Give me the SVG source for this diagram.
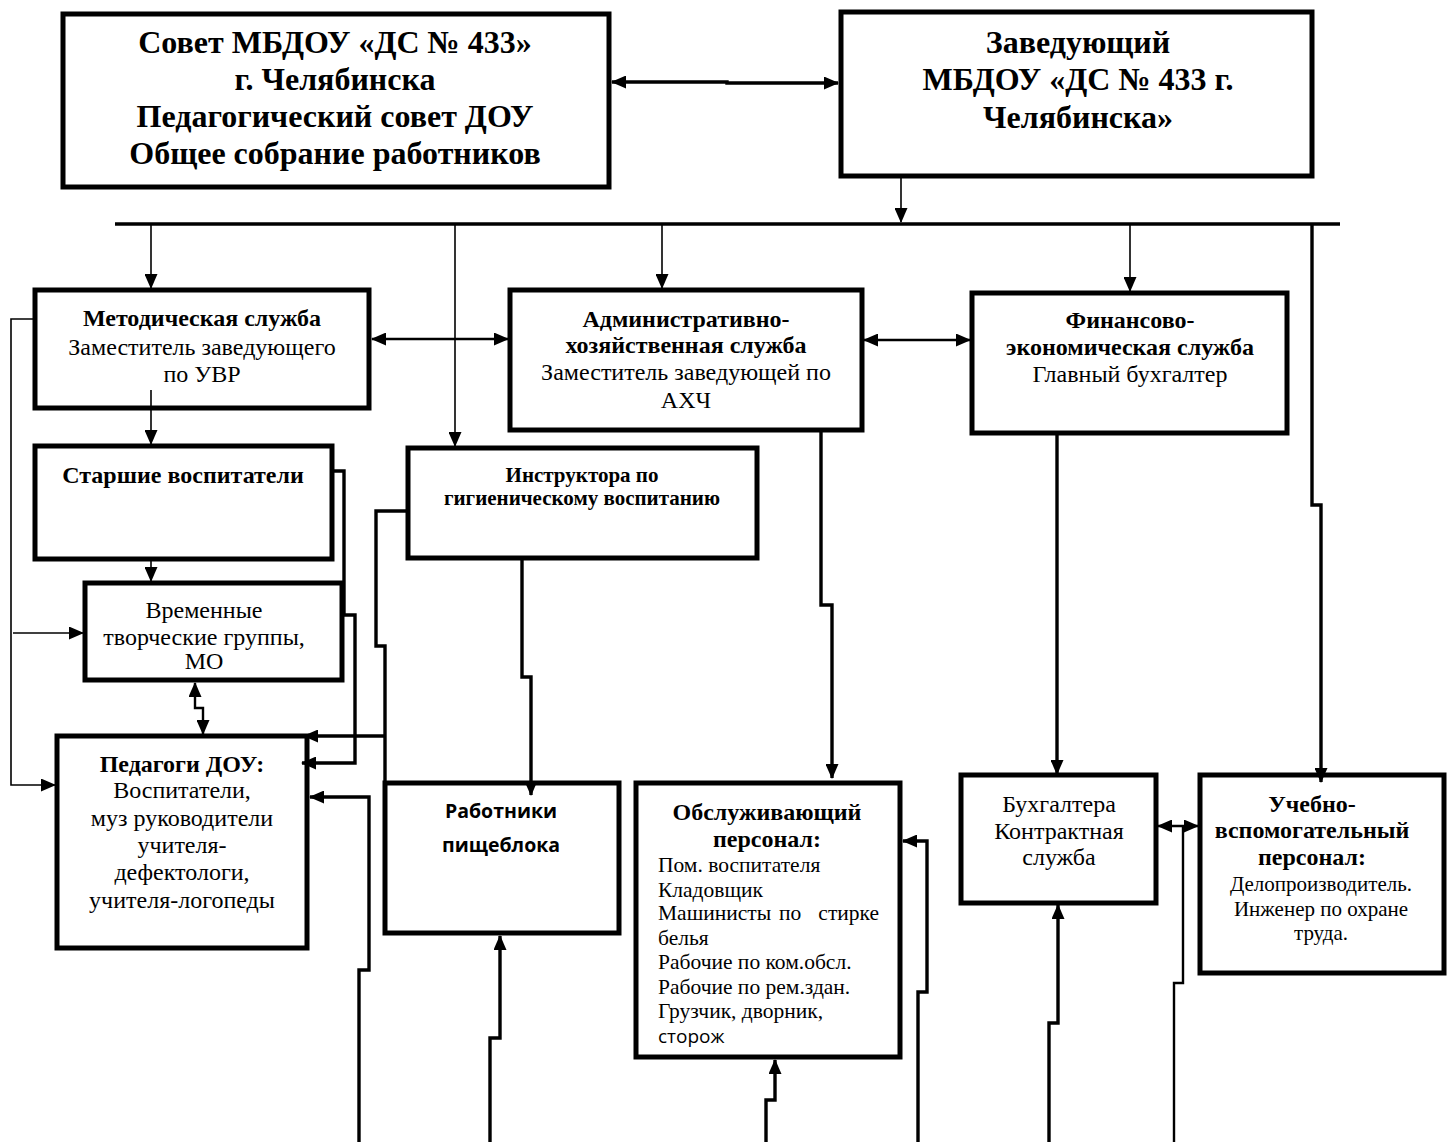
<svg xmlns="http://www.w3.org/2000/svg" width="1452" height="1142" viewBox="0 0 1452 1142">
<style>
.box{fill:#fff;stroke:#000;stroke-width:5}
.t{font-family:"Liberation Serif","Times New Roman",serif;fill:#000;text-anchor:middle}
.b{font-weight:bold}
.l{text-anchor:start}
.e{text-anchor:end}
.s{font-family:"Open Sans","Liberation Sans",sans-serif}
.c{fill:none;stroke:#000;stroke-linejoin:miter}
.w1{stroke-width:1.6}
.w2{stroke-width:2.4}
.w3{stroke-width:3.4}
</style>
<defs>
<marker id="ah" markerUnits="userSpaceOnUse" markerWidth="15" markerHeight="13" refX="14" refY="6.5" orient="auto-start-reverse"><path d="M0,0 L15,6.5 L0,13 z" fill="#000"/></marker>
</defs>
<rect width="1452" height="1142" fill="#fff"/>
<g id="sovet">
<rect class="box" x="63" y="14" width="546" height="173"/>
<text class="t b" font-size="32" x="335" y="53">Совет МБДОУ «ДС № 433»</text>
<text class="t b" font-size="32" x="335" y="90">г. Челябинска</text>
<text class="t b" font-size="32" x="335" y="127">Педагогический совет ДОУ</text>
<text class="t b" font-size="32" x="335" y="164">Общее собрание работников</text>
</g>
<g id="zaveduyushchiy">
<rect class="box" x="841" y="12" width="471" height="164"/>
<text class="t b" font-size="32" x="1078" y="53">Заведующий</text>
<text class="t b" font-size="32" x="1078" y="90">МБДОУ «ДС № 433 г.</text>
<text class="t b" font-size="32" x="1078" y="128">Челябинска»</text>
</g>
<g id="metod">
<rect class="box" x="35" y="290" width="334" height="118"/>
<text class="t b" font-size="24" x="202" y="326">Методическая служба</text>
<text class="t" font-size="24" x="202" y="355">Заместитель заведующего</text>
<text class="t" font-size="24" x="202" y="382">по УВР</text>
</g>
<g id="adm">
<rect class="box" x="510" y="290" width="352" height="140"/>
<text class="t b" font-size="24" x="686" y="327">Административно-</text>
<text class="t b" font-size="24" x="686" y="353">хозяйственная служба</text>
<text class="t" font-size="24" x="686" y="380">Заместитель заведующей по</text>
<text class="t" font-size="24" x="686" y="408">АХЧ</text>
</g>
<g id="fin">
<rect class="box" x="972" y="293" width="315" height="140"/>
<text class="t b" font-size="24" x="1130" y="328">Финансово-</text>
<text class="t b" font-size="24" x="1130" y="355">экономическая служба</text>
<text class="t" font-size="24" x="1130" y="382">Главный бухгалтер</text>
</g>
<g id="starshie">
<rect class="box" x="35" y="446" width="297" height="113"/>
<text class="t b" font-size="24" x="183" y="483">Старшие воспитатели</text>
</g>
<g id="instr">
<rect class="box" x="408" y="448" width="349" height="110"/>
<text class="t b" font-size="21" x="582" y="482">Инструктора по</text>
<text class="t b" font-size="21" x="582" y="505">гигиеническому воспитанию</text>
</g>
<g id="vremennye">
<rect class="box" x="85" y="583" width="257" height="97"/>
<text class="t" font-size="24" x="204" y="618">Временные</text>
<text class="t" font-size="24" x="204" y="645">творческие группы,</text>
<text class="t" font-size="24" x="204" y="669">МО</text>
</g>
<g id="pedagogi">
<rect class="box" x="57" y="736" width="250" height="212"/>
<text class="t b" font-size="24" x="182" y="772">Педагоги ДОУ:</text>
<text class="t" font-size="24" x="182" y="798">Воспитатели,</text>
<text class="t" font-size="24" x="182" y="826">муз руководители</text>
<text class="t" font-size="24" x="182" y="853">учителя-</text>
<text class="t" font-size="24" x="182" y="880">дефектологи,</text>
<text class="t" font-size="24" x="182" y="908">учителя-логопеды</text>
</g>
<g id="rabotniki">
<rect class="box" x="385" y="783" width="234" height="150"/>
<text class="t s b" font-size="19.5" x="501" y="818">Работники</text>
<text class="t s b" font-size="19.5" x="501" y="852">пищеблока</text>
</g>
<g id="obsluzh">
<rect class="box" x="636" y="783" width="264" height="274"/>
<text class="t b" font-size="24" x="767" y="820">Обслуживающий</text>
<text class="t b" font-size="24" x="767" y="847">персонал:</text>
<text class="t l" font-size="21.5" x="658" y="872">Пом. воспитателя</text>
<text class="t l" font-size="21.5" x="658" y="897">Кладовщик</text>
<text class="t l" font-size="21.5" x="658" y="920">Машинисты</text>
<text class="t l" font-size="21.5" x="779" y="920">по</text>
<text class="t e" font-size="21.5" x="879" y="920">стирке</text>
<text class="t l" font-size="21.5" x="658" y="945">белья</text>
<text class="t l" font-size="21.5" x="658" y="969">Рабочие по ком.обсл.</text>
<text class="t l" font-size="21.5" x="658" y="994">Рабочие по рем.здан.</text>
<text class="t l" font-size="21.5" x="658" y="1018">Грузчик, дворник,</text>
<text class="t l s" font-size="19" x="658" y="1043">сторож</text>
</g>
<g id="buhgaltera">
<rect class="box" x="961" y="775" width="195" height="128"/>
<text class="t" font-size="24" x="1059" y="812">Бухгалтера</text>
<text class="t" font-size="24" x="1059" y="839">Контрактная</text>
<text class="t" font-size="24" x="1059" y="865">служба</text>
</g>
<g id="uchebno">
<rect class="box" x="1200" y="775" width="244" height="198"/>
<text class="t b" font-size="24" x="1312" y="812">Учебно-</text>
<text class="t b" font-size="24" x="1312" y="838">вспомогательный</text>
<text class="t b" font-size="24" x="1312" y="865">персонал:</text>
<text class="t" font-size="21" x="1321" y="891">Делопроизводитель.</text>
<text class="t" font-size="21" x="1321" y="916">Инженер по охране</text>
<text class="t" font-size="21" x="1321" y="940">труда.</text>
</g>
<g id="connectors">
<path class="c w3" d="M612,82 H727 V83 H838" marker-start="url(#ah)" marker-end="url(#ah)"/>
<path class="c w1" d="M901,178 V222" marker-end="url(#ah)"/>
<path class="c w3" d="M115,224 H1340"/>
<path class="c w1" d="M151,224 V288" marker-end="url(#ah)"/>
<path class="c w1" d="M455,224 V446" marker-end="url(#ah)"/>
<path class="c w1" d="M662,224 V288" marker-end="url(#ah)"/>
<path class="c w1" d="M1130,224 V291" marker-end="url(#ah)"/>
<path class="c w3" d="M1312,224 V505 H1321 V782" marker-end="url(#ah)"/>
<path class="c w2" d="M372,339 H508" marker-start="url(#ah)" marker-end="url(#ah)"/>
<path class="c w2" d="M864,340 H970" marker-start="url(#ah)" marker-end="url(#ah)"/>
<path class="c w1" d="M151,390 V444" marker-end="url(#ah)"/>
<path class="c w1" d="M151,559 V581" marker-end="url(#ah)"/>
<path class="c w1" d="M13,633 H83" marker-end="url(#ah)"/>
<path class="c w1" d="M35,319 H11 V785 H55" marker-end="url(#ah)"/>
<path class="c w3" d="M333,471 H344 V615 H355 V763 H302" marker-end="url(#ah)"/>
<path class="c w3" d="M407,511 H376 V646 H385 V783"/>
<path class="c w3" d="M385,736 H304" marker-end="url(#ah)"/>
<path class="c w3" d="M359,1142 V970 H369 V797 H310" marker-end="url(#ah)"/>
<path class="c w2" d="M195,683 V708 H203 V734" marker-start="url(#ah)" marker-end="url(#ah)"/>
<path class="c w3" d="M522,559 V677 H531 V795" marker-end="url(#ah)"/>
<path class="c w3" d="M490,1142 V1038 H500 V936" marker-end="url(#ah)"/>
<path class="c w3" d="M821,430 V605 H832 V778" marker-end="url(#ah)"/>
<path class="c w3" d="M918,1142 V992 H927 V841 H903" marker-end="url(#ah)"/>
<path class="c w3" d="M766,1142 V1100 H775 V1060" marker-end="url(#ah)"/>
<path class="c w3" d="M1057,433 V774" marker-end="url(#ah)"/>
<path class="c w3" d="M1049,1142 V1023 H1058 V905" marker-end="url(#ah)"/>
<path class="c w2" d="M1158,826 H1198" marker-start="url(#ah)" marker-end="url(#ah)"/>
<path class="c w2" d="M1174,1142 V983 H1183 V826"/>
</g>
</svg>
